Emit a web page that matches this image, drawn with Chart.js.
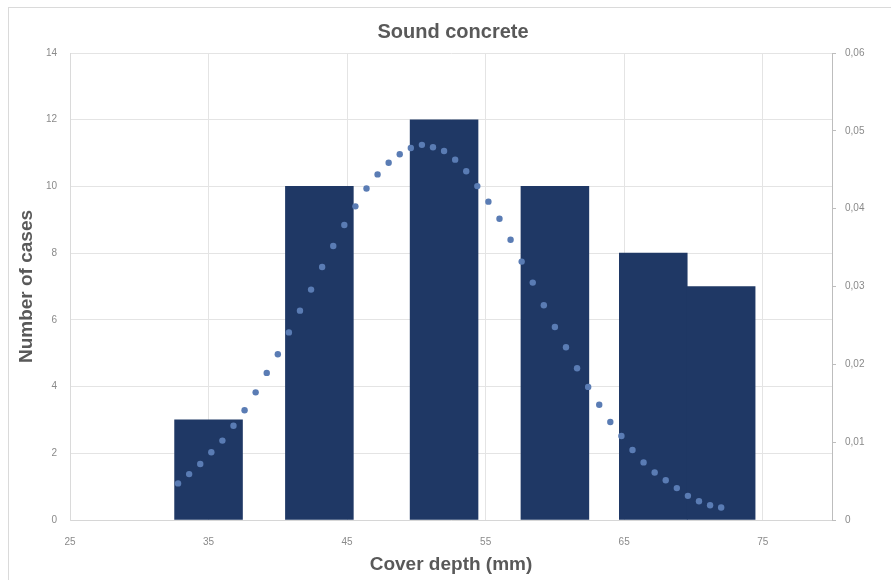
<!DOCTYPE html>
<html lang="en">
<head>
  <meta charset="UTF-8" />
  <title>Sound concrete</title>
  <script src="https://cdn.jsdelivr.net/npm/chart.js"></script>
  <style>
    html, body { margin: 0; padding: 0; background: #fff; overflow: hidden; }
    #wrap { position: relative; width: 891px; height: 580px; }
    #frame {
      position: absolute; left: 8px; top: 7px; width: 1000px; height: 1000px;
      border: 1px solid #dadada; pointer-events: none;
    }
  </style>
</head>
<body>
  <div id="wrap">
    <canvas id="chart" width="891" height="580"></canvas>
    <div id="frame"></div>
  </div>

  <script>
    // histogram bins (bin centre in mm) and counts
    const binCenters = [35, 43, 52, 60, 67.1, 72];
    const caseCounts = [3, 10, 12, 10, 8, 7];

    // fitted distribution (right axis)
    const curveX = [32.8, 33.6, 34.4, 35.2, 36.0, 36.8, 37.6, 38.4, 39.2, 40.0,
                    40.8, 41.6, 42.4, 43.2, 44.0, 44.8, 45.6, 46.4, 47.2, 48.0,
                    48.8, 49.6, 50.4, 51.2, 52.0, 52.8, 53.6, 54.4, 55.2, 56.0,
                    56.8, 57.6, 58.4, 59.2, 60.0, 60.8, 61.6, 62.4, 63.2, 64.0,
                    64.8, 65.6, 66.4, 67.2, 68.0, 68.8, 69.6, 70.4, 71.2, 72.0];
    const curveY = [0.0047, 0.0059, 0.0072, 0.0087, 0.0102, 0.0121, 0.0141, 0.0164, 0.0189, 0.0213,
                    0.0241, 0.0269, 0.0296, 0.0325, 0.0352, 0.0379, 0.0403, 0.0426, 0.0444, 0.0459,
                    0.0470, 0.0478, 0.0482, 0.0479, 0.0474, 0.0463, 0.0448, 0.0429, 0.0409, 0.0387,
                    0.0360, 0.0332, 0.0305, 0.0276, 0.0248, 0.0222, 0.0195, 0.0171, 0.0148, 0.0126,
                    0.0108, 0.0090, 0.0074, 0.0061, 0.0051, 0.0041, 0.0031, 0.0024, 0.0019, 0.0016];

    // axis ticks
    const xTicks = [25, 35, 45, 55, 65, 75];
    const yTicks = [0, 2, 4, 6, 8, 10, 12, 14];
    const y2Ticks = [0, 0.01, 0.02, 0.03, 0.04, 0.05, 0.06];
    const y2TickLabels = ['0', '0,01', '0,02', '0,03', '0,04', '0,05', '0,06'];

    const FONT = "'Liberation Sans', Arial, sans-serif";
    const tickFont = { family: FONT, size: 10 };
    const titleFont = { family: FONT, size: 19, weight: 'bold' };
    const setTicks = list => scale => { scale.ticks = list.map(v => ({ value: v })); };

    new Chart(document.getElementById('chart'), {
      type: 'bar',
      data: {
        datasets: [
          {
            type: 'scatter',
            data: curveX.map((x, i) => ({ x: x, y: curveY[i] })),
            yAxisID: 'y2',
            order: 0,
            pointRadius: 3.2,
            pointBackgroundColor: '#5a7cb4',
            pointBorderWidth: 0,
            showLine: false
          },
          {
            data: binCenters.map((x, i) => ({ x: x, y: caseCounts[i] })),
            yAxisID: 'y',
            order: 1,
            backgroundColor: '#1f3865',
            borderWidth: 0,
            barPercentage: 1,
            categoryPercentage: 1
          }
        ]
      },
      options: {
        responsive: false,
        animation: false,
        layout: { padding: { left: 15, right: 0, top: 0, bottom: 0 } },
        plugins: {
          legend: { display: false },
          tooltip: { enabled: false },
          title: {
            display: true,
            text: 'Sound concrete',
            color: '#595959',
            font: { family: FONT, size: 20, weight: 'bold' },
            padding: { top: 20, bottom: 9 }
          }
        },
        scales: {
          x: {
            type: 'linear',
            min: 25,
            max: 80,
            offset: false,
            afterBuildTicks: setTicks(xTicks),
            afterFit: s => { s.height = 60; },
            grid: { color: '#e4e4e4', drawTicks: false, offset: false },
            border: { color: '#d6d6d6' },
            ticks: { color: '#8a8a8a', font: tickFont, padding: 16, autoSkip: false, maxRotation: 0 },
            title: { display: true, text: 'Cover depth (mm)', color: '#595959', font: titleFont, padding: { top: 0, bottom: 4 } }
          },
          y: {
            position: 'left',
            min: 0,
            max: 14,
            afterBuildTicks: setTicks(yTicks),
            afterFit: s => { s.width = 55; },
            grid: { color: '#e4e4e4', drawTicks: false },
            border: { color: '#dadada' },
            ticks: { color: '#8a8a8a', font: tickFont, padding: 13 },
            title: { display: true, text: 'Number of cases', color: '#595959', font: titleFont, padding: 0 }
          },
          y2: {
            position: 'right',
            min: 0,
            max: 0.06,
            afterBuildTicks: setTicks(y2Ticks),
            afterFit: s => { s.width = 59; },
            grid: { drawOnChartArea: false, drawTicks: true, tickLength: 4, color: '#bdbdbd' },
            border: { color: '#bdbdbd' },
            ticks: {
              color: '#8a8a8a', font: tickFont, padding: 9,
              callback: (v, i) => y2TickLabels[i]
            }
          }
        }
      }
    });
  </script>
</body>
</html>
